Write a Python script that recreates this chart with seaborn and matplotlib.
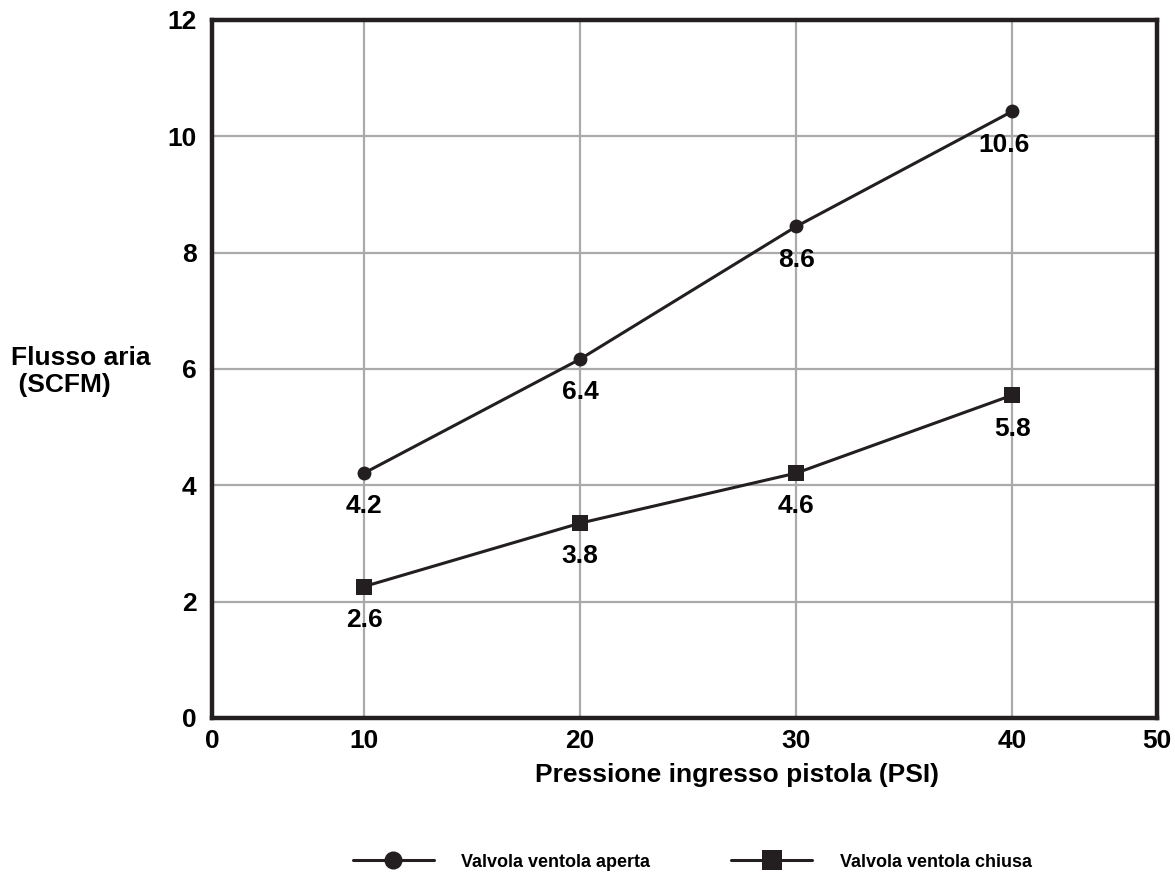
import numpy as np
import pandas as pd
import seaborn as sns
import matplotlib.pyplot as plt

# data
pressure = [10, 20, 30, 40]
flow_open = [4.21, 6.17, 8.45, 10.43]
flow_closed = [2.26, 3.35, 4.21, 5.55]
labels_open = ["4.2", "6.4", "8.6", "10.6"]
labels_closed = ["2.6", "3.8", "4.6", "5.8"]
series_names = ["Valvola ventola aperta", "Valvola ventola chiusa"]
x_tick_labels = ["0", "10", "20", "30", "40", "50"]
y_ticks = [0, 2, 4, 6, 8, 10, 12]

ink = "#231f20"

sns.set_style("white")
plt.rcParams["font.family"] = ["Liberation Sans", "DejaVu Sans"]
plt.rcParams["font.weight"] = "bold"
plt.rcParams["text.color"] = "black"
plt.rcParams["axes.labelcolor"] = "black"

fig = plt.figure(figsize=(11.75, 8.77), dpi=100)
ax = fig.add_axes([0.1804, 0.1813, 0.8043, 0.7959])

# one call per series so each gets its own marker size
sns.lineplot(x=pressure, y=flow_open, color=ink, marker="o", markersize=10,
             markeredgewidth=0, linewidth=2.2, ax=ax, zorder=3)
sns.lineplot(x=pressure, y=flow_closed, color=ink, marker="s", markersize=12,
             markeredgewidth=0, linewidth=2.2, ax=ax, zorder=3)

# the reference axis is drawn with its 0 and 50 labels at the frame edges
x_lo, x_hi = 2.96, 46.7
ax.set_xlim(x_lo, x_hi)
ax.set_ylim(0, 12)
ax.set_xticks([x_lo] + pressure + [x_hi])
ax.set_xticklabels(x_tick_labels)
ax.set_yticks(y_ticks)
ax.set_yticklabels([str(v) for v in y_ticks])
ax.tick_params(axis="both", length=0, labelsize=19, colors="black")
ax.tick_params(axis="x", pad=8)
ax.tick_params(axis="y", pad=11)
for lab in ax.get_xticklabels() + ax.get_yticklabels():
    lab.set_fontweight("bold")

ax.grid(True, color="#aaaaaa", linewidth=1.6, zorder=0)
for side in ax.spines.values():
    side.set_visible(True)
    side.set_color(ink)
    side.set_linewidth(3.2)

# value labels under each point
for ys, labs, dxs in [(flow_open, labels_open, [0, 0, 0, -6]),
                      (flow_closed, labels_closed, [0, 0, 0, 0])]:
    for x, y, t, dx in zip(pressure, ys, labs, dxs):
        ax.annotate(t, (x, y), xytext=(dx, -24), textcoords="offset points",
                    ha="center", va="center", fontsize=19, fontweight="bold",
                    color="black", zorder=4)

ax.set_xlabel("Pressione ingresso pistola (PSI)", fontsize=19, fontweight="bold",
              color="black")
ax.xaxis.set_label_coords(0.556, -0.064)
ax.set_ylabel("")
fig.text(0.009, 0.576, "Flusso aria\n (SCFM)", fontsize=19, fontweight="bold",
         ha="left", va="center", linespacing=1.15, color="black")

handles = [plt.Line2D([], [], color=ink, lw=2.2, marker=m, markersize=m_s,
                      markeredgewidth=0)
           for m, m_s in [("o", 13), ("s", 14)]]
leg = fig.legend(handles, series_names, loc="center", bbox_to_anchor=(0.589, 0.017),
                 ncol=2, frameon=False, handlelength=4.5,
                 handletextpad=1.5, columnspacing=4.5,
                 prop={"weight": "bold", "size": 13})
for t in leg.get_texts():
    t.set_color("black")

fig.savefig("out.png", dpi=100)
